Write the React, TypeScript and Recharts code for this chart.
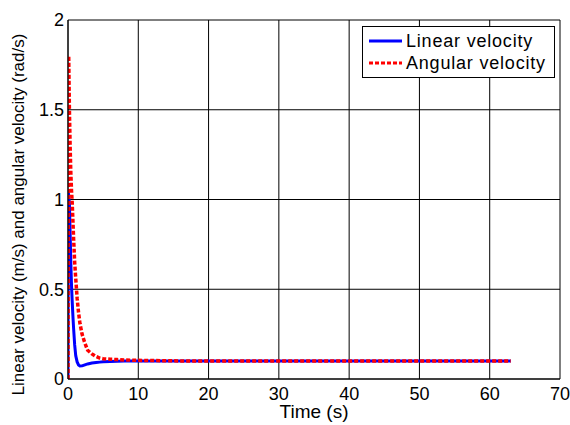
import { LineChart, Line, XAxis, YAxis, CartesianGrid } from "recharts";

// sample times (s), denser at the start where the transients happen
const time = [0, 0.03, 0.1, 0.2, 0.3, 0.4, 0.5, 0.6, 0.7, 0.8, 0.95, 1.1, 1.3, 1.5, 1.7, 2.0, 2.4, 2.8, 3.4, 4, 4.5, 5, 6, 7, 8, 10, 12, 15, 20, 30, 40, 50, 63];
const linearVelocity = [0, 1.05, 1.02, 0.98, 0.82, 0.65, 0.52, 0.43, 0.35, 0.28, 0.19, 0.13, 0.095, 0.078, 0.072, 0.073, 0.079, 0.084, 0.089, 0.092, 0.094, 0.096, 0.098, 0.099, 0.1, 0.1, 0.1, 0.1, 0.1, 0.1, 0.1, 0.1, 0.1];
const angularVelocity = [0, 1.2, 1.8, 1.5, 1.3, 1.15, 1.05, 0.98, 0.88, 0.78, 0.65, 0.56, 0.45, 0.37, 0.31, 0.25, 0.2, 0.16, 0.14, 0.125, 0.117, 0.113, 0.11, 0.108, 0.106, 0.104, 0.103, 0.101, 0.1, 0.1, 0.1, 0.1, 0.1];

const xTicks = [0, 10, 20, 30, 40, 50, 60, 70];
const yTicks = [0, 0.5, 1, 1.5, 2];

const data = time.map((t, i) => ({
  t,
  linear: linearVelocity[i],
  angular: angularVelocity[i],
}));

const font = "Arial, 'Liberation Sans', sans-serif";

function LegendBox() {
  const row = { display: "flex", alignItems: "center", height: 22 };
  return (
    <div
      style={{
        position: "absolute",
        left: 362,
        top: 26,
        width: 193,
        boxSizing: "border-box",
        border: "1px solid #000",
        background: "#fff",
        padding: "3px 0 3px 6px",
        fontFamily: font,
        fontSize: 18,
        letterSpacing: 0.8,
        color: "#000",
        lineHeight: "22px",
        whiteSpace: "nowrap",
      }}
    >
      <div style={row}>
        <svg width={33} height={6} style={{ marginRight: 4 }}>
          <line x1={0} y1={3} x2={33} y2={3} stroke="#0000ff" strokeWidth={3} />
        </svg>
        Linear velocity
      </div>
      <div style={row}>
        <svg width={33} height={6} style={{ marginRight: 4 }}>
          <line x1={0} y1={3} x2={33} y2={3} stroke="#ff0000" strokeWidth={3} strokeDasharray="4 2" />
        </svg>
        Angular velocity
      </div>
    </div>
  );
}

export default function App() {
  return (
    <div style={{ position: "relative", width: 570, height: 425, background: "#fff" }}>
      <style>{"body{margin:0}"}</style>
      <LineChart width={570} height={425} data={data} margin={{ top: 20, right: 10, bottom: 0, left: 20 }}>
        <CartesianGrid stroke="#000" strokeWidth={1} horizontalValues={yTicks} verticalValues={xTicks} />
        <XAxis
          dataKey="t"
          type="number"
          domain={[0, 70]}
          ticks={xTicks}
          height={46}
          tickSize={0}
          tickMargin={8}
          axisLine={{ stroke: "#000" }}
          tick={{ fill: "#000", fontSize: 18, fontFamily: font }}
          label={{ value: "Time (s)", position: "insideBottom", offset: 7, fill: "#000", fontSize: 19, fontFamily: font }}
          allowDataOverflow
        />
        <YAxis
          type="number"
          domain={[0, 2]}
          ticks={yTicks}
          width={48}
          tickSize={0}
          tickMargin={4}
          axisLine={{ stroke: "#000" }}
          tick={{ fill: "#000", fontSize: 18, fontFamily: font }}
          tickFormatter={(v: number) => String(v)}
          label={{
            value: "Linear velocity (m/s) and angular velocity (rad/s)",
            angle: -90,
            position: "insideLeft",
            dx: -7,
            dy: 196,
            fill: "#000",
            fontSize: 17,
            fontFamily: font,
          }}
          allowDataOverflow
        />
        <Line type="linear" dataKey="linear" stroke="#0000ff" strokeWidth={3} dot={false} isAnimationActive={false} />
        <Line
          type="linear"
          dataKey="angular"
          stroke="#ff0000"
          strokeWidth={3.5}
          strokeDasharray="4 2"
          dot={false}
          isAnimationActive={false}
        />
      </LineChart>
      <LegendBox />
    </div>
  );
}
